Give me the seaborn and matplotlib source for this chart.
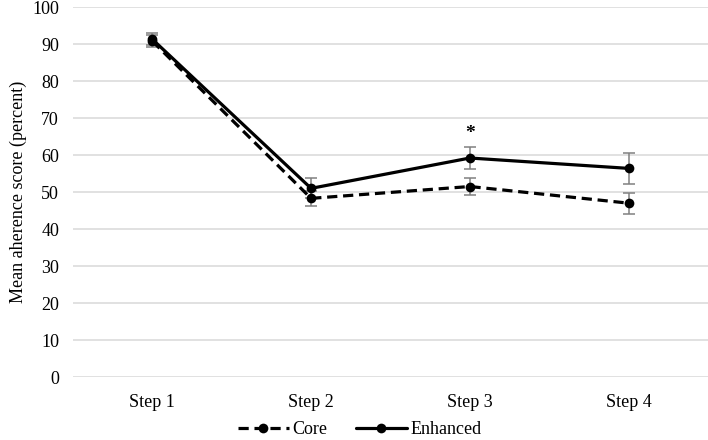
import numpy as np
import pandas as pd
import matplotlib
matplotlib.use("Agg")
import matplotlib.pyplot as plt
import seaborn as sns

steps = ["Step 1", "Step 2", "Step 3", "Step 4"]
core_mean = [90.8, 48.3, 51.5, 47.0]
core_err = [1.6, 2.0, 2.2, 2.8]
enhanced_mean = [91.3, 51.0, 59.2, 56.4]
enhanced_err = [1.6, 2.7, 3.0, 4.2]
star_step = "Step 3"
star_y = 63.5

sns.set_theme(style = "white")
plt.rcParams["font.family"] = ["Liberation Serif", "DejaVu Serif"]
plt.rcParams["text.color"] = "black"
plt.rcParams["axes.labelcolor"] = "black"
fs = 13

pos = np.arange(len(steps))
df = pd.DataFrame({
    "pos": np.concatenate([pos, pos]),
    "score": core_mean + enhanced_mean,
    "group": ["Core"] * len(steps) + ["Enhanced"] * len(steps),
})

fig = plt.figure(figsize = (7.08, 4.4), dpi = 100)
ax = fig.add_axes([0.103, 0.143, 0.897, 0.841])

# error bars first so the lines sit on top
for mean, err in [(core_mean, core_err), (enhanced_mean, enhanced_err)]:
    ax.errorbar(pos, mean, yerr = err, fmt = "none", ecolor = "#808080",
                elinewidth = 1.1, capsize = 4, capthick = 1.1, zorder = 2)

sns.lineplot(
    data = df, x = "pos", y = "score", hue = "group", style = "group",
    palette = {"Core": "black", "Enhanced": "black"},
    dashes = {"Core": (3.2, 1.8), "Enhanced": ""},
    markers = {"Core": "o", "Enhanced": "o"},
    markersize = 7, linewidth = 2.3, markeredgewidth = 0,
    ax = ax, zorder = 3, legend = True,
)

ax.text(pos[steps.index(star_step)], star_y, "*", ha = "center", va = "bottom",
        fontsize = 14, fontweight = "bold")

ax.set_xlim(-0.5, len(steps) - 0.5)
ax.set_ylim(0, 100)
ax.set_yticks(range(0, 101, 10))
ax.set_xticks(pos)
ax.set_xticklabels(steps)
ax.yaxis.grid(True, color = "#d9d9d9", linewidth = 1.1)
ax.xaxis.grid(False)
ax.tick_params(axis = "both", length = 0, labelsize = fs, colors = "black")
ax.tick_params(axis = "x", pad = 12)
ax.tick_params(axis = "y", pad = 10)
for s in ax.spines.values():
    s.set_visible(False)
ax.set_xlabel("")
ax.set_ylabel("Mean aherence score (percent)", fontsize = fs, labelpad = 4)

handles, labels = ax.get_legend_handles_labels()
ax.get_legend().remove()
fig.legend(handles, labels, loc = "lower center", bbox_to_anchor = (0.508, -0.033),
           ncol = 2, frameon = False, handlelength = 2.8, columnspacing = 1.6,
           handletextpad = 0.2, fontsize = fs)

fig.savefig("out.png", dpi = 100)
